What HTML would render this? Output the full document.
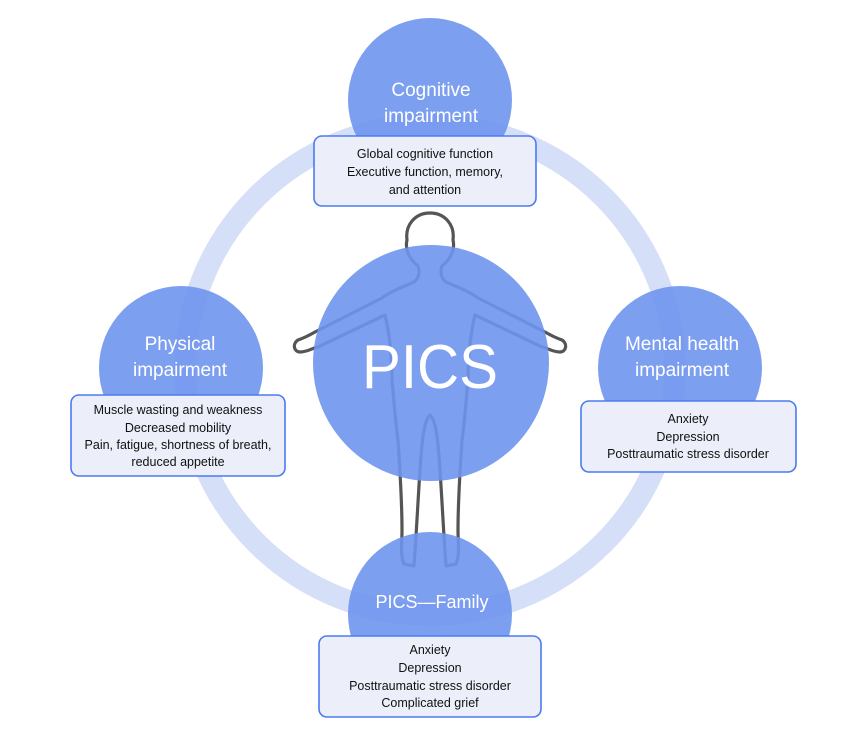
<!DOCTYPE html>
<html><head><meta charset="utf-8"><style>
body{margin:0;background:#fff;}
svg text{font-family:"Liberation Sans",sans-serif;}
</style></head><body>
<svg width="850" height="743" viewBox="0 0 850 743" xmlns="http://www.w3.org/2000/svg">
<circle cx="430" cy="370" r="245" fill="none" stroke="#d6dff8" stroke-width="22"/>
<g fill="none" stroke="#555" stroke-width="3.2" stroke-linejoin="round" stroke-linecap="round">
<path d="M418,266 C408,258 405,248 407,240 C405,225 415,213 430,213 C445,213 455,225 453,240 C455,248 452,258 442,266 C440,272 441,278 446,282 C460,288 470,292 478,298 L545,332 C552,336 556,338 562,340 C568,344 566,352 560,352 C552,352 548,348 542,347 L475,315 C470,336 468,360 468,380 C466,400 465,420 462,440 C460,470 458,500 458,530 C458,545 460,555 456,564 L446,566 C444,540 442,500 440,470 C438,440 436,420 430,415 C424,420 422,440 420,470 C418,500 416,540 414,566 L404,564 C400,555 402,545 402,530 C402,500 400,470 398,440 C395,420 394,400 392,380 C392,360 390,336 385,315 L318,347 C312,348 308,352 300,352 C294,352 292,344 298,340 C304,338 308,336 315,332 L382,298 C390,292 400,288 414,282 C419,278 420,272 418,266 Z"/>
</g>
<g fill="#6f95ee" fill-opacity="0.9">
<circle cx="431" cy="363" r="118"/>
<circle cx="430" cy="100" r="82"/>
<circle cx="181" cy="368" r="82"/>
<circle cx="680" cy="368" r="82"/>
<circle cx="430" cy="614" r="82"/>
</g>
<g fill="#fff" text-anchor="middle">
<text x="430" y="388" font-size="62" textLength="136" lengthAdjust="spacingAndGlyphs">PICS</text>
<text x="431" y="96" font-size="19">Cognitive</text>
<text x="431" y="122" font-size="19">impairment</text>
<text x="180" y="350" font-size="19">Physical</text>
<text x="180" y="376" font-size="19">impairment</text>
<text x="682" y="350" font-size="19">Mental health</text>
<text x="682" y="376" font-size="19">impairment</text>
<text x="432" y="608" font-size="18">PICS—Family</text>
</g>
<g fill="#eceff9" stroke="#4a7bf0" stroke-width="1.6">
<rect x="314" y="136" width="222" height="70" rx="8"/>
<rect x="71" y="395" width="214" height="81" rx="8"/>
<rect x="581" y="401" width="215" height="71" rx="8"/>
<rect x="319" y="636" width="222" height="81" rx="8"/>
</g>
<g fill="#111" text-anchor="middle" font-size="12.5">
<text x="425" y="158">Global cognitive function</text>
<text x="425" y="176">Executive function, memory,</text>
<text x="425" y="194">and attention</text>
<text x="178" y="414">Muscle wasting and weakness</text>
<text x="178" y="432">Decreased mobility</text>
<text x="178" y="449">Pain, fatigue, shortness of breath,</text>
<text x="178" y="466">reduced appetite</text>
<text x="688" y="423">Anxiety</text>
<text x="688" y="441">Depression</text>
<text x="688" y="458">Posttraumatic stress disorder</text>
<text x="430" y="654">Anxiety</text>
<text x="430" y="672">Depression</text>
<text x="430" y="690">Posttraumatic stress disorder</text>
<text x="430" y="707">Complicated grief</text>
</g>
</svg>
</body></html>
